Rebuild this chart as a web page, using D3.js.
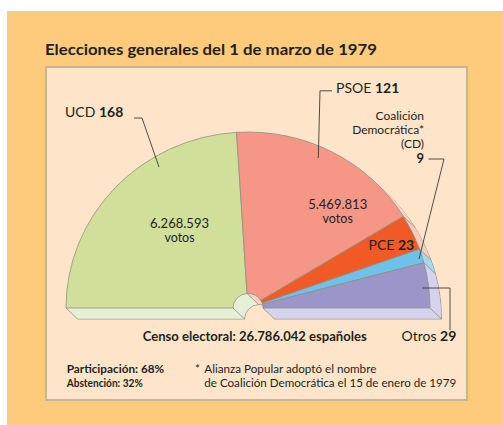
<!DOCTYPE html>
<html><head><meta charset="utf-8">
<script src="https://cdn.jsdelivr.net/npm/d3@7/dist/d3.min.js"></script>
<style>body{margin:0;background:#fff}svg{display:block}text{font-family:Lato,"Open Sans",sans-serif;fill:#231f20}</style>
</head><body>
<script>
// ---- data ----
const parties = ["UCD", "PSOE", "PCE", "CD", "Otros"];
const seats = [168, 121, 23, 9, 29];
const votes = ["6.268.593", "5.469.813"];
const title = "Elecciones generales del 1 de marzo de 1979";
const censo = "Censo electoral: 26.786.042 españoles";
const participacion = "Participación: 68%";
const abstencion = "Abstención: 32%";
const nota = ["Alianza Popular adoptó el nombre", "de Coalición Democrática el 15 de enero de 1979"];
const cdName = ["Coalición", "Democrática*", "(CD)"];

// ---- styles ----
const faceColors = ["#d0e09b", "#f59687", "#f15a24", "#6ec1e8", "#9c95c9"];
const sideColors = ["#e5f0d6", "#f9d3c5", "#f8cdb9", "#a6d9f1", "#d5d3ee"];
const W = 503, H = 425;
const cx = 248, cy = 308, R = 182, r0 = 15, ky = 0.967;
const sx = 11.5, sy = 11, N = 24;
const edge = "#8f8f84";

const svg = d3.select("body").append("svg").attr("width", W).attr("height", H);
svg.append("rect").attr("width", W).attr("height", H).attr("fill", "#fff");
svg.append("rect").attr("x", 7).attr("y", 11).attr("width", W - 7).attr("height", H - 11).attr("fill", "#fecb7c");
svg.append("rect").attr("x", 46).attr("y", 67).attr("width", 421).attr("height", 333)
  .attr("fill", "#fee5ca").attr("stroke", "#c6b498").attr("stroke-width", 2);

svg.append("text").attr("x", 45).attr("y", 55).attr("font-size", 16).attr("font-weight", 700)
  .attr("textLength", 332).attr("lengthAdjust", "spacingAndGlyphs").text(title);

const pie = d3.pie().sort(null).startAngle(-Math.PI / 2).endAngle(Math.PI / 2);
const arcs = pie(seats);
const arc = d3.arc().innerRadius(r0).outerRadius(R);

// extrusion layers
for (let k = N; k >= 1; k--) {
  const g = svg.append("g").attr("transform", `translate(${cx + sx * k / N},${cy + sy * k / N}) scale(1,${ky})`);
  g.selectAll("path").data(arcs).join("path")
    .attr("d", arc)
    .attr("fill", (d, i) => sideColors[i])
    .attr("stroke", k === N ? edge : "none")
    .attr("stroke-width", 0.8)
    .attr("vector-effect", "non-scaling-stroke");
}
// corner edges
function pt(a, rad) { return [cx + rad * Math.sin(a), cy - rad * Math.cos(a) * ky]; }
const outerAngles = [-Math.PI / 2].concat(arcs.map(d => d.endAngle)).filter(a => a < -Math.PI / 2 + 0.001 || Math.PI / 2 - a < 0.81);
const innerAngles = [-Math.PI / 2, Math.PI / 2].concat(arcs.slice(0, -1).map(d => d.endAngle).filter(a => Math.PI / 2 - a > 0.81));
outerAngles.forEach(a => {
  const p = pt(a, R);
  svg.append("line").attr("x1", p[0]).attr("y1", p[1]).attr("x2", p[0] + sx).attr("y2", p[1] + sy)
    .attr("stroke", edge).attr("stroke-width", 0.8);
});
innerAngles.forEach(a => {
  const p = pt(a, r0);
  svg.append("line").attr("x1", p[0]).attr("y1", p[1]).attr("x2", p[0] + sx).attr("y2", p[1] + sy)
    .attr("stroke", edge).attr("stroke-width", 0.8);
});
// front face
const front = svg.append("g").attr("transform", `translate(${cx},${cy}) scale(1,${ky})`);
front.selectAll("path").data(arcs).join("path")
  .attr("d", arc)
  .attr("fill", (d, i) => faceColors[i])
  .attr("stroke", edge).attr("stroke-width", 0.8)
  .attr("vector-effect", "non-scaling-stroke");

// labels
function label(x, y, name, num) {
  const t = svg.append("text").attr("x", x).attr("y", y).attr("font-size", 14);
  t.append("tspan").text(name + " ");
  t.append("tspan").attr("font-weight", 700).text(num);
  return t;
}
function leader(points) {
  svg.append("path").attr("d", d3.line()(points)).attr("fill", "none").attr("stroke", "#3a3a3a").attr("stroke-width", 0.9);
}
label(65, 117, parties[0], seats[0]);
leader([[134, 118], [142, 118], [159, 167]]);
label(336, 92.5, parties[1], seats[1]);
leader([[332, 90.8], [320, 90.8], [318.3, 158]]);
cdName.forEach((s, i) => svg.append("text").attr("x", 424).attr("y", 120 + i * 14).attr("font-size", 12).attr("text-anchor", "end").text(s));
svg.append("text").attr("x", 424).attr("y", 162.5).attr("font-size", 13).attr("font-weight", 700).attr("text-anchor", "end").text(seats[3]);
leader([[428.5, 159], [444, 159], [419, 259]]);
label(368.5, 249.5, parties[2], seats[2]);
label(401.5, 340.5, parties[4], seats[4]);
leader([[422.7, 288], [450, 288], [450, 330]]);

[[179.5, 228, votes[0]], [337.7, 208.5, votes[1]]].forEach(([x, y, v]) => {
  svg.append("text").attr("x", x).attr("y", y).attr("font-size", 12.5).attr("text-anchor", "middle")
    .attr("textLength", 59).attr("lengthAdjust", "spacingAndGlyphs").text(v);
  svg.append("text").attr("x", x).attr("y", y + 14).attr("font-size", 12.5).attr("text-anchor", "middle").text("votos");
});

svg.append("text").attr("x", 142.7).attr("y", 340.7).attr("font-size", 14).attr("font-weight", 700)
  .attr("textLength", 224).attr("lengthAdjust", "spacingAndGlyphs").text(censo);
svg.append("text").attr("x", 66.7).attr("y", 373.3).attr("font-size", 11.8).attr("font-weight", 700)
  .attr("textLength", 97.5).attr("lengthAdjust", "spacingAndGlyphs").text(participacion);
svg.append("text").attr("x", 66.7).attr("y", 386.7).attr("font-size", 11.8).attr("font-weight", 700)
  .attr("textLength", 76).attr("lengthAdjust", "spacingAndGlyphs").text(abstencion);
svg.append("text").attr("x", 195).attr("y", 373.3).attr("font-size", 11.8).text("*");
svg.append("text").attr("x", 204.3).attr("y", 373.3).attr("font-size", 11.8)
  .attr("textLength", 172).attr("lengthAdjust", "spacingAndGlyphs").text(nota[0]);
svg.append("text").attr("x", 204.3).attr("y", 386.7).attr("font-size", 11.8)
  .attr("textLength", 252).attr("lengthAdjust", "spacingAndGlyphs").text(nota[1]);
</script>
</body></html>
